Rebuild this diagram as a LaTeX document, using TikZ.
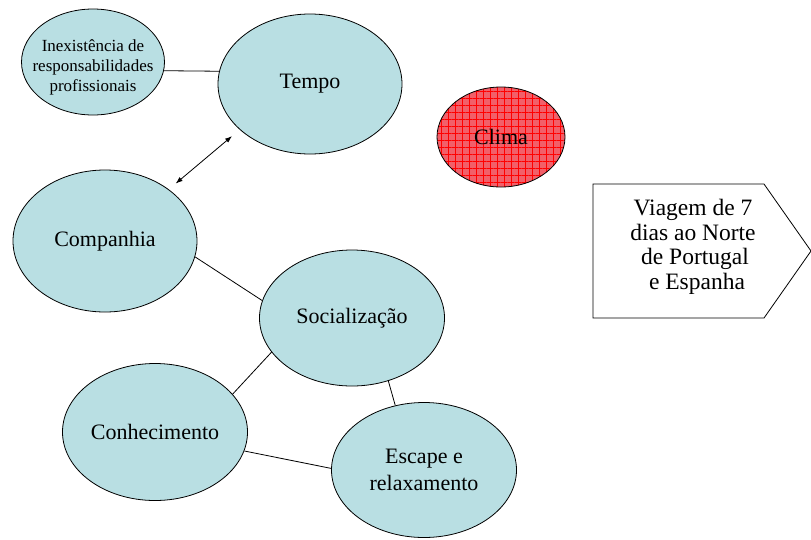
\documentclass[tikz,border=0pt]{standalone}
\usepackage{fontspec}
\setmainfont{Liberation Serif}
\usetikzlibrary{arrows.meta,shapes.geometric,patterns.meta}
\definecolor{bubblefill}{RGB}{185,223,227}
\definecolor{climafill}{RGB}{242,95,105}
\tikzset{
  bubble/.style={ellipse, draw, line width=0.8pt, fill=bubblefill, inner sep=0pt,
    align=center, font=\fontsize{22}{27}\selectfont},
  link/.style={line width=0.8pt},
}

\begin{document}
\begin{tikzpicture}[x=1pt,y=-1pt]
\useasboundingbox (0,0) rectangle (811,539);
\node[bubble, minimum width=143pt, minimum height=106pt,
  label={[align=center, yshift=-5pt, font=\fontsize{17}{20}\selectfont]center:{Inexistência de\\responsabilidades\\profissionais}}] (inex) at (93,62) {};
\node[bubble, minimum width=184pt, minimum height=140pt] (tempo) at (310,84) {Tempo};
\node[ellipse, draw, line width=0.8pt, minimum width=128pt, minimum height=100pt,
  preaction={fill=climafill}, pattern={Hatch[distance=7pt, line width=0.8pt]}, pattern color=red,
  font=\fontsize{22}{27}\selectfont] (clima) at (501,137) {Clima};
\node[bubble, minimum width=184pt, minimum height=142pt] (companhia) at (105,241) {Companhia};
\node[bubble, minimum width=185pt, minimum height=136pt] (social) at (352,318) {Socialização};
\node[bubble, minimum width=185pt, minimum height=137pt] (conhec) at (155,432) {Conhecimento};
\node[bubble, minimum width=185pt, minimum height=135pt] (escape) at (424,470) {Escape e\\relaxamento};
% trip box
\draw[line width=0.8pt] (593,184) -- (764,184) -- (811,251) -- (764,318) -- (593,318) -- cycle;
\node[align=center, font=\fontsize{23.5}{24.5}\selectfont] (trip) at (693,247) {Viagem de 7\\dias ao Norte\\\hspace{4pt}de Portugal\\\hspace{8pt}e Espanha};
% links
\draw[link] (inex.-7) -- (tempo.172);
\draw[link, {Latex[length=7pt,width=5pt]}-{Latex[length=7pt,width=5pt]}, shorten <=10pt, shorten >=9pt] (tempo.213) -- (companhia.39);
\draw[link] (companhia.-10) -- (social.169);
\draw[link] (social.203) -- (conhec.26);
\draw[link] (social.-60) -- (escape.114);
\draw[link] (conhec.-12) -- (escape.179);
\end{tikzpicture}
\end{document}
